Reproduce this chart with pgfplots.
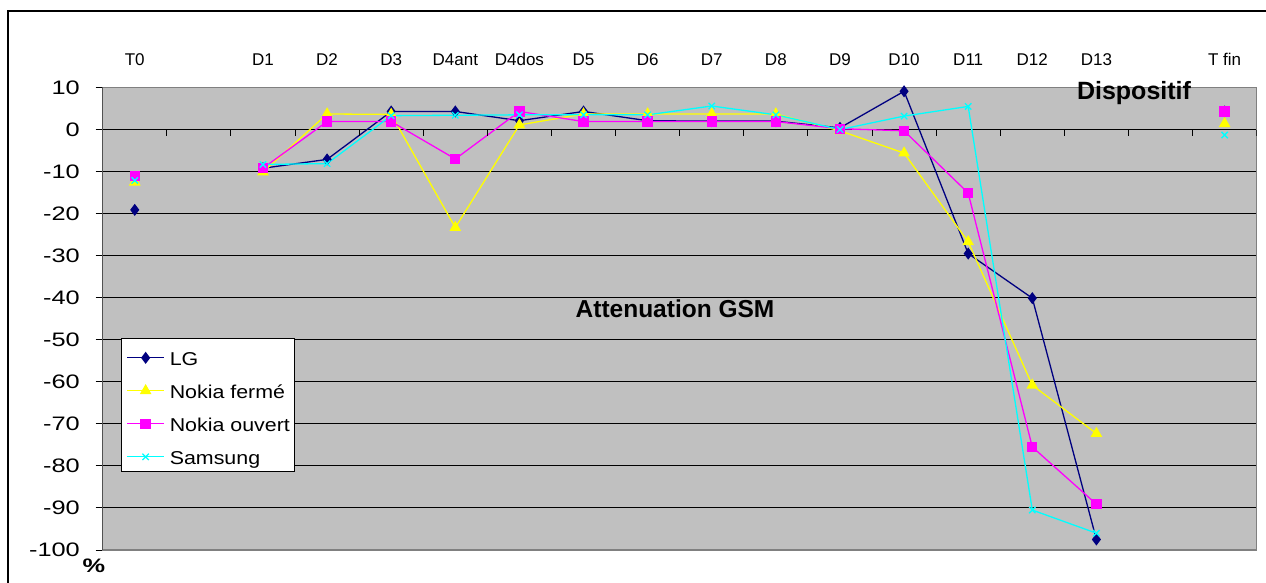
\documentclass[border=0pt]{standalone}
\usepackage{fontspec}
\setmainfont{Liberation Sans}
\newfontfamily\ytfont[FakeStretch=1.3]{Liberation Sans}
\newfontfamily\legfont[FakeStretch=1.15]{Liberation Sans}
\usepackage{pgfplots}
\usepackage{pgfplotstable}
\pgfplotsset{compat=1.18}
\definecolor{lgc}{RGB}{0,0,128}
\definecolor{nfc}{RGB}{255,255,0}
\definecolor{noc}{RGB}{255,0,255}
\definecolor{sac}{RGB}{0,255,255}
\definecolor{plotbg}{RGB}{192,192,192}
\definecolor{bordc}{RGB}{128,128,128}
\pgfplotstableread{
x LG NF NO SA
0 -19.1 -12.5 -11.1 -12.1
1 nan nan nan nan
2 -9.2 -10.1 -9.2 -8.3
3 -7.1 3.7 1.9 -8.1
4 4.3 3.6 1.9 3.3
5 4.3 -23.3 -7.0 3.4
6 2.1 1.1 4.3 3.5
7 4.3 3.7 1.9 3.5
8 2.1 3.7 1.9 3.5
9 2.0 3.7 1.9 5.6
10 2.0 3.7 1.9 3.5
11 0.4 -0.3 0.2 0.0
12 9.1 -5.6 -0.3 3.2
13 -29.5 -26.7 -15.1 5.5
14 -40.1 -60.8 -75.5 -90.5
15 -97.5 -72.3 -89.1 -96.0
16 nan nan nan nan
17 4.3 1.4 4.3 -1.3
}\data
\begin{document}
\begin{tikzpicture}
\begin{axis}[
  name=ax, at={(0pt,0pt)}, anchor=south west,
  scale only axis, width=1154pt, height=462.5pt,
  xmin=-0.5, xmax=17.5, ymin=-100, ymax=10,
  axis background/.style={fill=plotbg},
  axis line style={draw=bordc, line width=1.5pt},
  unbounded coords=jump,
  ytick={-100,-90,...,10},
  yticklabels={-100,-90,-80,-70,-60,-50,-40,-30,-20,-10,0,10},
  ymajorgrids,
  major grid style={black, line width=1pt},
  ytick pos=left,
  tick align=outside,
  major tick length=7pt,
  ytick style={black, line width=1pt},
  yticklabel style={font=\fontsize{19.5}{20}\ytfont, anchor=east, inner sep=0pt},
  yticklabel shift=15.7pt,
  xtick={0,...,17},
  xticklabels={T0,,D1,D2,D3,D4ant,D4dos,D5,D6,D7,D8,D9,D10,D11,D12,D13,,T fin},
  xticklabel pos=upper,
  xtick style={draw=none},
  xticklabel style={font=\fontsize{17}{17}\selectfont, anchor=south, inner sep=0pt},
  xticklabel shift=14.5pt,
  legend style={at={(rel axis cs:0.01586,0.4577)}, anchor=north west,
    draw=black, line width=1pt, fill=white,
    font=\fontsize{18.6}{20}\legfont,
    inner xsep=5pt, inner ysep=6.2pt,
    column sep=5pt, row sep=12pt,
    nodes={inner sep=0pt, text height=20pt, text depth=1pt}},
  legend cell align=left,
  legend image code/.code={\draw[mark repeat=2,mark phase=2,line width=1.3pt] plot coordinates {(0pt,-2.3pt)(18.5pt,-2.3pt)(37pt,-2.3pt)};},
]
\addplot[color=lgc, line width=1.3pt, mark=diamond*, mark size=5pt, mark options={solid, fill=lgc}] table[x=x,y=LG]{\data};
\addlegendentry{LG}
\addplot[color=nfc, line width=1.3pt, mark=triangle*, mark size=5.5pt, mark options={solid, fill=nfc}] table[x=x,y=NF]{\data};
\addlegendentry{Nokia fermé}
\addplot[color=noc, line width=1.3pt, mark=square*, mark size=4.5pt, mark options={solid, fill=noc}] table[x=x,y=NO]{\data};
\addlegendentry{Nokia ouvert}
\addplot[color=sac, line width=1.3pt, mark=x, mark size=4.5pt, mark options={solid}] table[x=x,y=SA]{\data};
\addlegendentry{Samsung}
\draw[black, line width=1.2pt] (rel axis cs:0,0) -- (rel axis cs:0,1);
\pgfplotsinvokeforeach{0.5,1.5,2.5,3.5,4.5,5.5,6.5,7.5,8.5,9.5,10.5,11.5,12.5,13.5,14.5,15.5,16.5,17.5}{
  \draw[black, line width=1pt] (axis cs:#1,0) -- ([yshift=-6pt]axis cs:#1,0);
}
\end{axis}
\pgfresetboundingbox
\begin{scope}[shift={(ax.south west)}, x=1pt, y=1pt]
\begin{scope}[shift={(-102.7,-32)}]
\useasboundingbox (0,0) rectangle (1266,582);
\draw[line width=1.5pt] (8,-2) -- (8,571) -- (1268,571);
\node[font=\fontsize{25}{25}\selectfont\bfseries, anchor=base] at (1134,482) {Dispositif};
\node[font=\fontsize{24.5}{25}\selectfont\bfseries, anchor=base] at (675,264.5) {Attenuation GSM};
\node[font=\fontsize{19.5}{20}\ytfont\bfseries, anchor=base] at (94,9.5) {\%};
\end{scope}
\end{scope}
\end{tikzpicture}
\end{document}
